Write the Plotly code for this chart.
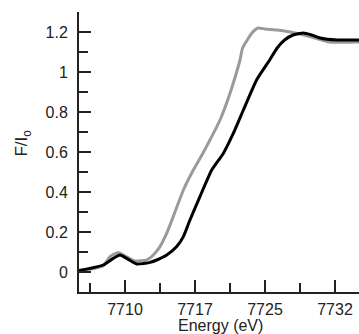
import plotly.graph_objects as go

# Energy (eV) and normalized fluorescence F/Io
energy_black = [7705.07, 7706.25, 7707.67, 7708.74, 7709.46, 7710.18, 7711.25, 7711.96, 7712.68, 7713.4,
                7714.47, 7715.54, 7716.25, 7716.96, 7718.03, 7719.29, 7720.53, 7721.6, 7722.68, 7724.1,
                7725.5, 7726.3, 7727.1, 7728.0, 7729.1, 7730.0, 7730.9, 7732.7, 7734.1, 7735.1]
flux_black = [0.007, 0.018, 0.035, 0.068, 0.085, 0.068, 0.04, 0.042, 0.048, 0.06,
              0.085, 0.127, 0.177, 0.26, 0.377, 0.51, 0.593, 0.693, 0.81, 0.96,
              1.06, 1.12, 1.16, 1.185, 1.195, 1.185, 1.17, 1.16, 1.16, 1.16]

energy_gray = [7705.07, 7707.64, 7708.39, 7709.28, 7710.0, 7711.07, 7712.32, 7713.03, 7713.75, 7714.47,
               7715.17, 7716.25, 7717.32, 7718.3, 7719.1, 7720.18, 7721.25, 7722.32, 7722.6, 7723.6,
               7724.25, 7725.0, 7726.3, 7727.7, 7728.75, 7730.0, 7731.96, 7735.1]
flux_gray = [0.005, 0.03, 0.077, 0.097, 0.08, 0.055, 0.06, 0.085, 0.127, 0.194,
             0.277, 0.41, 0.51, 0.59, 0.66, 0.76, 0.894, 1.06, 1.12, 1.195,
             1.22, 1.215, 1.21, 1.2, 1.19, 1.175, 1.15, 1.15]

x_tickvals = [7710, 7717.5, 7725, 7732.5]
x_ticktext = ["7710", "7717", "7725", "7732"]
x_minorvals = [7706.25, 7713.75, 7721.25, 7728.75]
y_tickvals = [0, 0.2, 0.4, 0.6, 0.8, 1.0, 1.2]
y_ticktext = ["0", "0.2", "0.4", "0.6", "0.8", "1", "1.2"]
y_minorvals = [0.1, 0.3, 0.5, 0.7, 0.9, 1.1, 1.3]

x_title = "Energy (eV)"
y_title = "F/I<sub>o</sub>"

fig = go.Figure()
fig.add_trace(go.Scatter(x=energy_gray, y=flux_gray, mode="lines",
                         line=dict(color="#9a9a9a", width=3, shape="spline", smoothing=0.5),
                         showlegend=False))
fig.add_trace(go.Scatter(x=energy_black, y=flux_black, mode="lines",
                         line=dict(color="#000000", width=3, shape="spline", smoothing=0.5),
                         showlegend=False))

font_family = "Liberation Sans, Arial, Helvetica, sans-serif"
fig.update_layout(
    width=359, height=334,
    margin=dict(l=79, r=0, t=12, b=42),
    paper_bgcolor="white", plot_bgcolor="white",
    font=dict(family=font_family, size=16, color="#222222"),
    xaxis=dict(
        range=[7705.07, 7735.07], automargin=False,
        tickmode="array", tickvals=x_tickvals, ticktext=x_ticktext,
        ticks="inside", ticklen=12, tickwidth=2, tickcolor="#222",
        minor=dict(tickmode="array", tickvals=x_minorvals, ticks="inside",
                   ticklen=9, tickwidth=2, tickcolor="#222"),
        showline=True, linecolor="#222", linewidth=2,
        showgrid=False, zeroline=False,
        ticklabelstandoff=2,
    ),
    yaxis=dict(
        range=[-0.1, 1.3], automargin=False,
        tickmode="array", tickvals=y_tickvals, ticktext=y_ticktext,
        ticks="inside", ticklen=12, tickwidth=2, tickcolor="#222",
        minor=dict(tickmode="array", tickvals=y_minorvals, ticks="inside",
                   ticklen=9, tickwidth=2, tickcolor="#222"),
        showline=True, linecolor="#222", linewidth=2,
        showgrid=False, zeroline=False,
        ticklabelstandoff=6,
    ),
    annotations=[
        dict(text=x_title, xref="paper", yref="paper", x=0.504, y=-0.085,
             xanchor="center", yanchor="top", showarrow=False, borderpad=0,
             font=dict(size=16, family=font_family, color="#222")),
        dict(text=y_title, xref="paper", yref="paper", x=-0.2, y=0.53,
             xanchor="center", yanchor="middle", textangle=-90, showarrow=False,
             font=dict(size=17, family=font_family, color="#222")),
    ],
)

fig.write_html("out.html", config={"displayModeBar": False},
               post_script="document.body.style.margin='0';document.body.style.overflow='hidden';")
